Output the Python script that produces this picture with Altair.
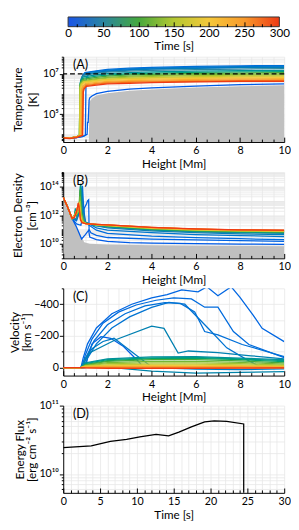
import altair as alt
import pandas as pd

FONT = "Lato"

# ---------------- colour scale (time in s) ----------------
TIME_STOPS = [0, 50, 100, 150, 200, 250, 300]
TIME_COLORS = ["#1a55e8", "#2a85a0", "#45a83c", "#b4c832", "#f5c83a", "#f89a2c", "#ee3a14"]
COLORBAR_TICKS = [0, 50, 100, 150, 200, 250, 300]
COLORBAR_MINOR = [12.5, 25, 37.5, 50, 62.5, 75, 87.5, 100, 112.5, 125, 137.5, 150, 162.5,
                  175, 187.5, 200, 212.5, 225, 237.5, 250, 262.5, 275, 287.5]

HEIGHT_TICKS = [0, 0.5, 1, 1.5, 2, 2.5, 3, 3.5, 4, 4.5, 5, 5.5, 6, 6.5, 7, 7.5, 8, 8.5, 9, 9.5, 10]
TIME_TICKS = [0, 1, 2, 3, 4, 5, 6, 7, 8, 9, 10, 11, 12, 13, 14, 15, 16, 17, 18, 19, 20,
              21, 22, 23, 24, 25, 26, 27, 28, 29, 30]
VEL_TICKS = [-500, -400, -300, -200, -100, 0]

# ---------------- Panel A : temperature ----------------
A_times = [3, 8, 15, 25, 35, 50, 65, 80, 100, 120, 140, 160, 180, 200, 225, 250, 275, 300]
A_heights = [
    [0, 0.3, 0.6, 0.9, 1.08, 1.1, 1.13, 1.15, 1.17, 1.2, 1.3, 1.5, 2, 3, 4, 6, 8, 10],
    [0, 0.3, 0.6, 0.9, 1.0, 1.03, 1.07, 1.17, 1.5, 2, 3, 4, 6, 8, 10],
    [0, 0.3, 0.6, 0.81, 0.84, 0.88, 0.98, 1.5, 2, 3, 4, 6, 8, 10],
    [0, 0.3, 0.6, 0.80, 0.83, 0.87, 0.97, 1.5, 2, 3, 4, 6, 8, 10],
    [0, 0.3, 0.6, 0.78, 0.81, 0.85, 0.95, 1.5, 2, 3, 4, 6, 8, 10],
    [0, 0.3, 0.6, 0.76, 0.79, 0.83, 0.93, 1.5, 2, 3, 4, 6, 8, 10],
    [0, 0.3, 0.6, 0.74, 0.77, 0.81, 0.91, 1.5, 2, 3, 4, 6, 8, 10],
    [0, 0.3, 0.6, 0.74, 0.77, 0.81, 0.91, 1.5, 2, 3, 4, 6, 8, 10],
    [0, 0.3, 0.6, 0.73, 0.76, 0.80, 0.90, 1.5, 2, 3, 4, 6, 8, 10],
    [0, 0.3, 0.6, 0.73, 0.76, 0.80, 0.90, 1.5, 2, 3, 4, 6, 8, 10],
    [0, 0.3, 0.6, 0.73, 0.76, 0.80, 0.90, 1.5, 2, 3, 4, 6, 8, 10],
    [0, 0.3, 0.6, 0.74, 0.77, 0.81, 0.91, 1.5, 2, 3, 4, 6, 8, 10],
    [0, 0.3, 0.6, 0.75, 0.78, 0.82, 0.92, 1.5, 2, 3, 4, 6, 8, 10],
    [0, 0.3, 0.6, 0.78, 0.81, 0.85, 0.95, 1.5, 2, 3, 4, 6, 8, 10],
    [0, 0.3, 0.6, 0.81, 0.84, 0.88, 0.98, 1.5, 2, 3, 4, 6, 8, 10],
    [0, 0.3, 0.6, 0.84, 0.87, 0.91, 1.01, 1.5, 2, 3, 4, 6, 8, 10],
    [0, 0.3, 0.6, 0.86, 0.89, 0.93, 1.03, 1.5, 2, 3, 4, 6, 8, 10],
    [0, 0.3, 0.6, 0.88, 0.91, 0.95, 1.05, 1.5, 2, 3, 4, 6, 8, 10],
]
A_temps = [
    [7000, 6500, 7000, 8000, 10000, 40000, 40000, 150000, 500000, 650000, 800000, 1.05e6, 1.35e6, 1.75e6, 2.05e6, 2.5e6, 2.9e6, 3.2e6],
    [7000, 6500, 7000, 8000, 9000, 4.4e6, 7.3e6, 9.9e6, 1.2e7, 1.4e7, 1.63e7, 1.78e7, 1.98e7, 2.1e7, 2.2e7],
    [7000, 6500, 7500, 9000, 5.2e6, 8.6e6, 1.17e7, 1.43e7, 1.66e7, 1.92e7, 2.1e7, 2.34e7, 2.5e7, 2.6e7],
    [7000, 6500, 7500, 9000, 4.8e6, 7.9e6, 1.08e7, 1.32e7, 1.54e7, 1.78e7, 1.94e7, 2.16e7, 2.3e7, 2.4e7],
    [7000, 6500, 7500, 9000, 4.2e6, 6.9e6, 9.5e6, 1.16e7, 1.34e7, 1.55e7, 1.7e7, 1.89e7, 2.02e7, 2.1e7],
    [7000, 6500, 7500, 9000, 4.5e6, 6.5e6, 8.5e6, 1.06e7, 1.22e7, 1.39e7, 1.49e7, 1.64e7, 1.73e7, 1.8e7],
    [7000, 6500, 7500, 9000, 3.75e6, 5.4e6, 7.1e6, 8.9e6, 1.02e7, 1.16e7, 1.25e7, 1.37e7, 1.44e7, 1.5e7],
    [7000, 6500, 7500, 9000, 3.25e6, 4.7e6, 6.1e6, 7.7e6, 8.8e6, 1.0e7, 1.08e7, 1.18e7, 1.25e7, 1.3e7],
    [7000, 6500, 7500, 9000, 2.9e6, 4.1e6, 5.4e6, 6.8e6, 7.8e6, 8.9e6, 9.5e6, 1.05e7, 1.1e7, 1.15e7],
    [7000, 6500, 7500, 9000, 2.5e6, 3.6e6, 4.7e6, 5.9e6, 6.8e6, 7.7e6, 8.3e6, 9.1e6, 9.6e6, 1.0e7],
    [7000, 6500, 7500, 9000, 2.25e6, 3.2e6, 4.2e6, 5.3e6, 6.1e6, 6.9e6, 7.5e6, 8.2e6, 8.6e6, 9.0e6],
    [7000, 6500, 7500, 9000, 2.0e6, 2.9e6, 3.8e6, 4.7e6, 5.4e6, 6.2e6, 6.6e6, 7.3e6, 7.7e6, 8.0e6],
    [7000, 6500, 7500, 9000, 2.2e6, 3.0e6, 4.0e6, 4.75e6, 5.3e6, 5.8e6, 6.1e6, 6.6e6, 7.0e6, 7.2e6],
    [7000, 6500, 7500, 9000, 1.95e6, 2.7e6, 3.6e6, 4.3e6, 4.8e6, 5.2e6, 5.5e6, 6.0e6, 6.3e6, 6.5e6],
    [7000, 6500, 7500, 9000, 1.74e6, 2.4e6, 3.2e6, 3.8e6, 4.3e6, 4.6e6, 4.9e6, 5.3e6, 5.6e6, 5.8e6],
    [7000, 6500, 7500, 9000, 1.56e6, 2.2e6, 2.9e6, 3.4e6, 3.85e6, 4.2e6, 4.4e6, 4.8e6, 5.0e6, 5.2e6],
    [7000, 6500, 7500, 9000, 1.4e6, 2.0e6, 2.6e6, 3.1e6, 3.5e6, 3.8e6, 4.0e6, 4.3e6, 4.6e6, 4.7e6],
    [6500, 6200, 7000, 9000, 1.3e6, 1.8e6, 2.4e6, 2.8e6, 3.2e6, 3.4e6, 3.7e6, 4.0e6, 4.2e6, 4.3e6],
]
A_gray_h = [0, 1.16, 1.18, 1.3, 1.5, 2, 3, 4, 6, 8, 10]
A_gray_T = [4200, 4200, 4.0e5, 6.0e5, 8.5e5, 1.1e6, 1.45e6, 1.7e6, 2.1e6, 2.45e6, 2.7e6]
A_threshold = 1e7
A_domain = [4200, 7.1e7]

# ---------------- Panel B : electron density ----------------
B_times = [3, 8, 15, 25, 35, 50, 65, 80, 100, 120, 140, 160, 180, 200, 225, 250, 275, 300]
B_H_GREEN1 = [0, 0.2, 0.4, 0.5, 0.55, 0.6, 0.72, 0.78, 0.83, 0.9, 1.0, 1.5, 2, 4, 6, 8, 10]
B_H_GREEN2 = [0, 0.2, 0.4, 0.5, 0.55, 0.6, 0.7, 0.76, 0.81, 0.9, 1.0, 1.5, 2, 4, 6, 8, 10]
B_H_WARM = [0, 0.2, 0.4, 0.5, 0.6, 0.68, 0.72, 0.78, 0.85, 1.0, 1.5, 2, 4, 6, 8, 10]
B_heights = [
    [0, 0.2, 0.4, 0.6, 0.83, 1.0, 1.15, 1.2, 1.5, 2, 3, 4, 6, 8, 10],
    [0, 0.2, 0.4, 0.6, 0.8, 0.95, 1.05, 1.1, 1.15, 1.17, 1.25, 1.5, 2, 4, 6, 8, 10],
    [0, 0.2, 0.4, 0.6, 0.8, 0.87, 0.92, 1.0, 1.5, 2, 4, 6, 8, 10],
    [0, 0.2, 0.4, 0.6, 0.8, 0.85, 0.9, 1.0, 1.5, 2, 4, 6, 8, 10],
    [0, 0.2, 0.4, 0.6, 0.78, 0.83, 0.88, 1.0, 1.5, 2, 4, 6, 8, 10],
    [0, 0.2, 0.4, 0.6, 0.75, 0.8, 0.86, 1.0, 1.5, 2, 4, 6, 8, 10],
    B_H_GREEN1, B_H_GREEN1, B_H_GREEN2, B_H_GREEN2, B_H_GREEN2,
    B_H_WARM, B_H_WARM, B_H_WARM, B_H_WARM, B_H_WARM, B_H_WARM, B_H_WARM,
]
B_dens = [
    [1.8e13, 3.5e12, 6e11, 1.5e11, 2.2e10, 4.5e10, 9e10, 3e10, 2e10, 1.5e10, 1.25e10, 1.15e10, 1.05e10, 9.8e9, 9.3e9],
    [1.8e13, 3.5e12, 6e11, 2.5e11, 2e11, 3e12, 6e12, 1e13, 1.2e13, 1e11, 6e10, 4e10, 2.8e10, 2.2e10, 1.9e10, 1.7e10, 1.5e10],
    [1.8e13, 3.5e12, 6e11, 4e11, 3e12, 1.1e14, 4e12, 3e11, 9e10, 5.5e10, 3.5e10, 2.7e10, 2.3e10, 2e10],
    [1.8e13, 3.5e12, 6e11, 5e11, 4e12, 5e13, 3e12, 3.5e11, 1.3e11, 9e10, 6e10, 4.5e10, 3.8e10, 3.2e10],
    [1.8e13, 3.5e12, 6e11, 5e11, 4e12, 8e13, 2e12, 3e11, 1.8e11, 1.3e11, 8e10, 6e10, 5e10, 4.5e10],
    [1.8e13, 3.5e12, 6e11, 6e11, 5e12, 1.2e14, 2e12, 3e11, 1.9e11, 1.5e11, 9e10, 7e10, 6e10, 5.5e10],
    [1.8e13, 3.5e12, 6e11, 8e11, 3e12, 1e12, 2e12, 1.5e14, 3e12, 4e11, 2.8e11, 2e11, 1.6e11, 1e11, 7.5e10, 6.5e10, 6e10],
    [1.8e13, 3.5e12, 6e11, 8e11, 2e12, 1e12, 2e12, 1e14, 2e12, 4e11, 2.8e11, 2e11, 1.7e11, 1.05e11, 8e10, 7e10, 6.5e10],
    [1.8e13, 3.5e12, 6e11, 9e11, 1.5e12, 1e12, 2e12, 6e13, 2e12, 4e11, 2.8e11, 2.1e11, 1.8e11, 1.1e11, 8.5e10, 7.5e10, 7e10],
    [1.8e13, 3.5e12, 6e11, 9e11, 1.3e12, 1.1e12, 2e12, 2e13, 1.5e12, 4e11, 2.8e11, 2.1e11, 1.85e11, 1.15e11, 9e10, 7.8e10, 7.2e10],
    [1.8e13, 3.5e12, 6e11, 1e12, 1.2e12, 1.2e12, 2e12, 1e13, 1.2e12, 3.5e11, 2.7e11, 2.1e11, 1.9e11, 1.2e11, 9.3e10, 8e10, 7.5e10],
    [1.8e13, 3.5e12, 6e11, 8e11, 1.5e12, 3e12, 8e12, 1e12, 3.5e11, 2.7e11, 2.2e11, 1.95e11, 1.25e11, 9.6e10, 8.3e10, 7.8e10],
    [1.8e13, 3.5e12, 6e11, 8e11, 1.6e12, 3e12, 7e12, 9e11, 3.5e11, 2.7e11, 2.2e11, 2e11, 1.3e11, 1e11, 8.6e10, 8e10],
    [1.8e13, 3.5e12, 6e11, 8e11, 1.8e12, 4e12, 7e12, 8e11, 3.4e11, 2.7e11, 2.25e11, 2.05e11, 1.32e11, 1.03e11, 8.9e10, 8.2e10],
    [1.8e13, 3.5e12, 6e11, 8e11, 2e12, 4.5e12, 6e12, 7e11, 3.3e11, 2.6e11, 2.25e11, 2.05e11, 1.35e11, 1.05e11, 9.1e10, 8.4e10],
    [1.8e13, 3.5e12, 6e11, 8e11, 2e12, 5e12, 5e12, 6e11, 3.2e11, 2.6e11, 2.3e11, 2.1e11, 1.37e11, 1.07e11, 9.3e10, 8.6e10],
    [1.8e13, 3.5e12, 6e11, 7e11, 1.8e12, 6e12, 4e12, 5e11, 3.1e11, 2.6e11, 2.3e11, 2.1e11, 1.4e11, 1.09e11, 9.5e10, 8.8e10],
    [1.8e13, 3.5e12, 6e11, 7e11, 1.6e12, 7e12, 3e12, 4.5e11, 3e11, 2.6e11, 2.3e11, 2.1e11, 1.42e11, 1.1e11, 9.6e10, 9e10],
]
B_gray_h = [0, 0.5, 0.95, 1.2, 2, 4, 6, 8, 10]
B_gray_ne = [1.5e13, 3e11, 1.3e10, 1.05e10, 9e9, 8e9, 7.5e9, 7.2e9, 7e9]
B_domain = [1e9, 1e15]

# ---------------- Panel C : velocity ----------------
C_times = [5, 10, 14, 18, 22, 30, 40, 45, 60, 70, 85, 100, 120, 140, 160, 180, 200, 225, 250, 275, 300]
C_H_ARC = [0, 0.8, 1.0, 2, 4, 6, 8, 10]
C_heights = [
    [0, 1.0, 1.1, 1.3, 1.71, 2.15, 2.73, 3.46, 3.6],
    [0, 0.8, 0.9, 1.1, 1.5, 2.2, 3.1, 4.0, 4.7, 5.36, 6.1, 6.5, 7.0, 7.6, 8.0, 8.6, 9.0, 10],
    [0, 0.85, 1.0, 1.3, 1.8, 2.5, 3.3, 4.2, 5.0, 5.8, 6.4, 7.0, 7.7, 8.4, 10],
    [0, 0.9, 1.05, 1.4, 2.0, 2.8, 3.7, 4.6, 5.3, 5.95, 6.4, 7.0, 8.1, 10],
    [0, 0.95, 1.1, 1.5, 2.2, 3.0, 4.0, 4.78, 5.5, 6.7, 7.4, 8.4, 9.0],
    [0, 0.8, 0.95, 1.3, 1.8, 2.3, 3.17, 4.05, 6, 8, 10],
    [0, 0.8, 1.2, 2.37, 4.0, 4.56, 5.2, 5.66, 7.0, 8.5, 10],
    [0, 0.8, 1.5, 3, 4, 6, 8, 10],
    C_H_ARC, C_H_ARC, C_H_ARC, C_H_ARC, C_H_ARC, C_H_ARC, C_H_ARC,
    C_H_ARC, C_H_ARC, C_H_ARC, C_H_ARC, C_H_ARC, C_H_ARC,
]
C_vel = [
    [0, 0, -60, -150, -195, -185, -133, -31, 0],
    [0, 0, -60, -150, -250, -340, -400, -440, -460, -490, -478, -510, -453, -510, -443, -330, -248, -164],
    [0, 0, -80, -180, -280, -350, -395, -425, -440, -433, -381, -381, -228, -146, -63],
    [0, 0, -70, -170, -270, -340, -390, -410, -405, -351, -228, -207, -146, -70],
    [0, 0, -60, -150, -250, -320, -380, -412, -400, -228, -125, -43, 0],
    [0, 0, -50, -120, -165, -185, -92, 0, 10, 12, 8],
    [0, 0, -94, -176, -262, -248, -92, -105, -94, -75, -55],
    [0, 0, -10, 10, 22, 35, 30, 25],
    [0, 0, -30, -55, -68, -70, -60, -50],
    [0, 0, -25, -50, -62, -64, -55, -45],
    [0, 0, -20, -45, -57, -58, -50, -38],
    [0, 0, -18, -40, -50, -50, -42, -30],
    [0, 0, -15, -32, -40, -40, -33, -22],
    [0, 0, -12, -25, -30, -30, -25, -16],
    [0, 0, -10, -18, -22, -22, -18, -12],
    [0, 0, -8, -14, -16, -16, -13, -9],
    [0, 0, -6, -10, -12, -11, -9, -6],
    [0, 0, -4, -7, -8, -7, -6, -4],
    [0, 0, -2, -4, -4, -4, -3, -2],
    [0, 0, 0, 1, 2, 2, 1, 1],
    [0, 0, 2, 4, 5, 4, 3, 2],
]
C_domain = [-500, 50]

# ---------------- Panel D : energy flux ----------------
D_time = [0, 3.8, 6.4, 8.6, 10.4, 12.6, 14.3, 15.7, 17.4, 19.2, 20.5, 22.2, 24.5, 24.5]
D_flux = [2.43e10, 2.57e10, 3.0e10, 3.2e10, 3.5e10, 3.8e10, 3.6e10, 4.1e10, 4.9e10,
          5.8e10, 6.0e10, 5.9e10, 5.4e10, 1e9]
D_domain = [5.3e9, 1e11]

PANEL_W = 228
H_BAR, H_A, H_B, H_C, H_D = 10, 88, 89, 90, 90
GRID = "#e6e6e6"


def long_df(times, xs, ys, xname, yname):
    if not (len(times) == len(xs) == len(ys)):
        raise ValueError("series count mismatch")
    rows = []
    for t, xl, yl in zip(times, xs, ys):
        if len(xl) != len(yl):
            raise ValueError(f"length mismatch t={t}: {len(xl)} vs {len(yl)}")
        for i, (x, y) in enumerate(zip(xl, yl)):
            rows.append({"t": t, "idx": i, xname: x, yname: y})
    return pd.DataFrame(rows)


SUP = str.maketrans("0123456789-", "⁰¹²³⁴⁵⁶⁷⁸⁹⁻")


def log_values(lo, hi):
    out = []
    for e in range(0, 17):
        for m in range(1, 10):
            v = m * 10 ** e
            if lo <= v <= hi:
                out.append(v)
    return out


def log_label_expr(exps):
    expr = "''"
    for e in reversed(exps):
        expr = f"datum.value === {10 ** e} ? '10{str(e).translate(SUP)}' : " + expr
    return expr


def log_major_test(exps):
    return " || ".join(f"datum.value === {10 ** e}" for e in exps)


def y_axis(values, label_expr, major_test, title, title_pad, line_h):
    return alt.Axis(
        orient="left", values=values, labelExpr=label_expr, labelOverlap=False,
        tickSize={"condition": {"test": major_test, "value": 4}, "value": 2},
        grid=True, title=title, titlePadding=title_pad, titleLineHeight=line_h,
        labelPadding=1,
    )


def x_axis(values, major_test, title):
    return alt.Axis(
        orient="bottom", values=values, format="~g",
        labelExpr=f"{major_test} ? datum.label : ''",
        labelOverlap=False, labelFlush=False, ticks=False, grid=True,
        title=title, labelPadding=3, titlePadding=3,
    )


def inner_ticks(values, major_test, h):
    return alt.Axis(
        orient="top", offset=-h, values=values, labels=False, domain=False,
        grid=False, title=None, zindex=2,
        tickSize={"condition": {"test": major_test, "value": 5}, "value": 3},
    )


def panel_label(txt):
    return alt.Chart(pd.DataFrame({"lab": [txt]})).mark_text(
        align="left", baseline="middle", font=FONT, fontSize=13, color="black"
    ).encode(text="lab:N", x=alt.value(10), y=alt.value(9))


color_scale = alt.Scale(domain=TIME_STOPS, range=TIME_COLORS)
x_h_scale = alt.Scale(domain=[0, 10], nice=False, zero=False)
H_MAJOR = "datum.value % 2 === 0"

# ---------------- colour bar ----------------
# scale padded so that the bar spans 0..300 a little inside the panel width
bar_scale = alt.Scale(domain=[-6.88, 306.88], nice=False, zero=False)
bar_y_scale = alt.Scale(domain=[0, 1], nice=False, zero=False)
bar_df = pd.DataFrame({"start": [TIME_STOPS[0]], "end": [TIME_STOPS[-1]], "lo": [0], "hi": [1]})
bar_fill = alt.Gradient(
    gradient="linear", x1=0, x2=1, y1=0, y2=0,
    stops=[alt.GradientStop(color=c, offset=s / TIME_STOPS[-1]) for s, c in zip(TIME_STOPS, TIME_COLORS)],
)
bar = alt.Chart(bar_df).mark_rect(fill=bar_fill, stroke="#333333", strokeWidth=1).encode(
    x=alt.X("start:Q", scale=bar_scale, axis=alt.Axis(
        values=COLORBAR_TICKS, domain=False, ticks=False, grid=False, labelFlush=False,
        labelOverlap=False, title="Time [s]", labelPadding=1, titlePadding=3,
        labelFontSize=12)),
    x2="end:Q",
    y=alt.Y("lo:Q", scale=bar_y_scale, axis=None),
    y2="hi:Q",
)
bar_ticks = alt.Chart(bar_df).mark_rect(opacity=0).encode(
    x=alt.X("start:Q", scale=bar_scale,
            axis=inner_ticks(COLORBAR_MINOR, "datum.value % 50 === 0", H_BAR)),
    x2="end:Q",
    y=alt.Y("lo:Q", scale=bar_y_scale, axis=None),
    y2="hi:Q",
)
colorbar = alt.layer(bar, bar_ticks).resolve_axis(x="independent").properties(
    width=PANEL_W, height=H_BAR)

# ---------------- Panel A ----------------
dfA = long_df(A_times, A_heights, A_temps, "h", "T")
dfAg = pd.DataFrame({"h": A_gray_h, "T": A_gray_T})
ysA = alt.Scale(type="log", domain=A_domain, nice=False)
yA = y_axis(log_values(*A_domain), log_label_expr([5, 7]), log_major_test([5, 7]),
            ["Temperature", "[K]"], 3, 16)
A_area = alt.Chart(dfAg).mark_area(color="#c0c0c0", clip=True).encode(
    x=alt.X("h:Q", scale=x_h_scale, axis=None),
    y=alt.Y("T:Q", scale=ysA, axis=yA),
    y2=alt.datum(A_domain[0]),
)
A_lines = alt.Chart(dfA).mark_line(strokeWidth=1.3, clip=True).encode(
    x=alt.X("h:Q", scale=x_h_scale, axis=x_axis(HEIGHT_TICKS, H_MAJOR, "Height [Mm]")),
    y=alt.Y("T:Q", scale=ysA, axis=yA),
    color=alt.Color("t:Q", scale=color_scale, legend=None),
    detail="t:N",
    order="idx:Q",
)
A_rule = alt.Chart(pd.DataFrame({"T": [A_threshold]})).mark_rule(
    color="black", strokeDash=[5, 3], strokeWidth=1.2
).encode(y=alt.Y("T:Q", scale=ysA, axis=yA))
A_ticks = alt.Chart(dfAg).mark_rule(opacity=0).encode(
    x=alt.X("h:Q", scale=x_h_scale, axis=inner_ticks(HEIGHT_TICKS, H_MAJOR, H_A))
)
panelA = alt.layer(A_area, A_lines, A_rule, A_ticks, panel_label("(A)")).resolve_axis(
    x="independent").properties(width=PANEL_W, height=H_A)

# ---------------- Panel B ----------------
dfB = long_df(B_times, B_heights, B_dens, "h", "ne")
dfBg = pd.DataFrame({"h": B_gray_h, "ne": B_gray_ne})
ysB = alt.Scale(type="log", domain=B_domain, nice=False)
yB = y_axis(log_values(*B_domain), log_label_expr([10, 12, 14]),
            log_major_test([10, 12, 14]), ["Electron Density", "[cm⁻³]"], 1, 14)
B_area = alt.Chart(dfBg).mark_area(color="#c0c0c0", clip=True).encode(
    x=alt.X("h:Q", scale=x_h_scale, axis=None),
    y=alt.Y("ne:Q", scale=ysB, axis=yB),
    y2=alt.datum(B_domain[0]),
)
B_lines = alt.Chart(dfB).mark_line(strokeWidth=1.3, clip=True).encode(
    x=alt.X("h:Q", scale=x_h_scale, axis=x_axis(HEIGHT_TICKS, H_MAJOR, "Height [Mm]")),
    y=alt.Y("ne:Q", scale=ysB, axis=yB),
    color=alt.Color("t:Q", scale=color_scale, legend=None),
    detail="t:N",
    order="idx:Q",
)
B_ticks = alt.Chart(dfBg).mark_rule(opacity=0).encode(
    x=alt.X("h:Q", scale=x_h_scale, axis=inner_ticks(HEIGHT_TICKS, H_MAJOR, H_B))
)
panelB = alt.layer(B_area, B_lines, B_ticks, panel_label("(B)")).resolve_axis(
    x="independent").properties(width=PANEL_W, height=H_B)

# ---------------- Panel C ----------------
dfC = long_df(C_times, C_heights, C_vel, "h", "v")
ysC = alt.Scale(domain=C_domain, reverse=True, nice=False, zero=False)
yC = y_axis(VEL_TICKS, "datum.value % 200 === 0 ? datum.label : ''",
            "datum.value % 200 === 0", ["Velocity", "[km s⁻¹]"], 0, 13)
C_lines = alt.Chart(dfC).mark_line(strokeWidth=1.3, clip=True).encode(
    x=alt.X("h:Q", scale=x_h_scale, axis=x_axis(HEIGHT_TICKS, H_MAJOR, "Height [Mm]")),
    y=alt.Y("v:Q", scale=ysC, axis=yC),
    color=alt.Color("t:Q", scale=color_scale, legend=None),
    detail="t:N",
    order="idx:Q",
)
C_ticks = alt.Chart(dfC).mark_rule(opacity=0).encode(
    x=alt.X("h:Q", scale=x_h_scale, axis=inner_ticks(HEIGHT_TICKS, H_MAJOR, H_C))
)
panelC = alt.layer(C_lines, C_ticks, panel_label("(C)")).resolve_axis(
    x="independent").properties(width=PANEL_W, height=H_C)

# ---------------- Panel D ----------------
dfD = pd.DataFrame({"time": D_time, "F": D_flux, "idx": list(range(len(D_time)))})
x_t_scale = alt.Scale(domain=[0, 30], nice=False, zero=False)
ysD = alt.Scale(type="log", domain=D_domain, nice=False)
T_MAJOR = "datum.value % 5 === 0"
yD = y_axis(log_values(*D_domain), log_label_expr([10, 11]), log_major_test([10, 11]),
            ["Energy Flux", "[erg cm⁻² s⁻¹]"], 1, 12)
D_line = alt.Chart(dfD).mark_line(color="black", strokeWidth=1.3, clip=True).encode(
    x=alt.X("time:Q", scale=x_t_scale, axis=x_axis(TIME_TICKS, T_MAJOR, "Time [s]")),
    y=alt.Y("F:Q", scale=ysD, axis=yD),
    order="idx:Q",
)
D_ticks = alt.Chart(dfD).mark_rule(opacity=0).encode(
    x=alt.X("time:Q", scale=x_t_scale, axis=inner_ticks(TIME_TICKS, T_MAJOR, H_D))
)
panelD = alt.layer(D_line, D_ticks, panel_label("(D)")).resolve_axis(
    x="independent").properties(width=PANEL_W, height=H_D)

chart = alt.vconcat(colorbar, panelA, panelB, panelC, panelD, spacing=31, bounds="flush").properties(
    padding={"left": 0, "top": 0, "right": 0, "bottom": 0}
).configure(font=FONT).configure_view(stroke=None).configure_axis(
    labelFont=FONT, titleFont=FONT, labelFontSize=11, titleFontSize=12,
    titleFontWeight="normal", labelColor="black", titleColor="black",
    domainColor="black", tickColor="black", gridColor=GRID, gridWidth=0.8,
)

chart.save("out.html", embed_options={"renderer": "svg", "actions": False})
